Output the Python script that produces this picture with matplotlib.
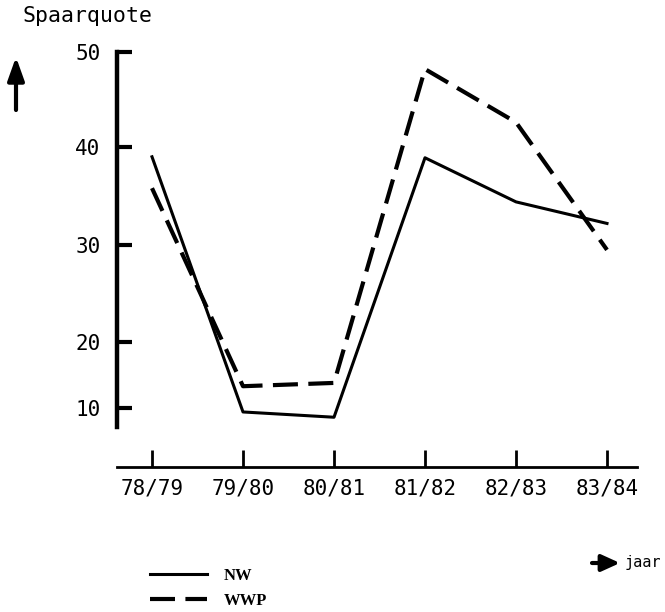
import numpy as np
import matplotlib.pyplot as plt

jaren = ['78/79', '79/80', '80/81', '81/82', '82/83', '83/84']
nw = [39.0, 9.4, 8.6, 38.9, 34.4, 32.2]
wwp = [35.8, 13.3, 13.8, 48.2, 42.6, 29.5]
y_ticks = [10, 20, 30, 40, 50]

# the hand drawn y axis is not evenly spaced (10-20 is narrower than the rest),
# so map values onto the drawn spacing with a function scale
axis_vals = [0, 10, 20, 30, 40, 50, 60]
axis_spacing = [-474, -408, -342, -245, -147, -52, 43]

def forward(v):
    return np.interp(v, axis_vals, axis_spacing)

def inverse(p):
    return np.interp(p, axis_spacing, axis_vals)

W, H = 665, 612

def fx(px):
    return px / W

def fy(py):
    return 1 - py / H

mono = 'DejaVu Sans Mono'

fig = plt.figure(figsize=(W / 100, H / 100), dpi=100)
ax = fig.add_axes([fx(117), fy(467), fx(637 - 117), (467 - 52) / H])
ax.set_yscale('function', functions=(forward, inverse))
ax.set_ylim(1.06, 50)

x = np.arange(len(jaren))
ax.set_xlim(-(152 - 117) / 91, (637 - 152) / 91)

ax.plot(x, nw, color='black', lw=2.2, label='NW')
ax.plot(x, wwp, color='black', lw=3, dashes=(6, 2.5), label='WWP')

ax.spines['top'].set_visible(False)
ax.spines['right'].set_visible(False)
ax.spines['left'].set_linewidth(3.2)
ax.spines['bottom'].set_linewidth(2)
ax.spines['left'].set_bounds(7.1, 50)

ax.set_yticks(y_ticks)
ax.set_yticklabels([str(v) for v in y_ticks], fontfamily=mono, fontsize=15)
ax.set_xticks(x)
ax.set_xticklabels(jaren, fontfamily=mono, fontsize=15)
ax.tick_params(axis='y', direction='in', length=11, width=3, pad=12)
ax.tick_params(axis='x', direction='in', length=12, width=2, pad=8)
ax.minorticks_off()

# axis titles with their arrows
fig.text(fx(23), fy(16), 'Spaarquote', fontfamily=mono, fontsize=15.5, va='center', ha='left')
fig.text(fx(625), fy(563), 'jaar', fontfamily=mono, fontsize=11, va='center', ha='left')
arrow = dict(arrowstyle='-|>,head_length=0.7,head_width=0.25', lw=3, color='black',
             mutation_scale=20, shrinkA=0, shrinkB=0)
ax.annotate('', xy=(16, H - 57), xytext=(16, H - 110), xycoords='figure pixels',
            textcoords='figure pixels', arrowprops=arrow, annotation_clip=False)
arrow_x = dict(arrow, arrowstyle='-|>,head_length=0.55,head_width=0.25')
ax.annotate('', xy=(620, H - 563), xytext=(592, H - 563), xycoords='figure pixels',
            textcoords='figure pixels', arrowprops=arrow_x, annotation_clip=False)

fig.legend(loc='upper left', bbox_to_anchor=(fx(150), fy(568)), frameon=False,
           borderpad=0, borderaxespad=0, handlelength=3.4, handletextpad=1.0,
           labelspacing=0.55, prop={'family': 'Liberation Serif', 'weight': 'bold', 'size': 12})

fig.savefig('out.png', dpi=100)
